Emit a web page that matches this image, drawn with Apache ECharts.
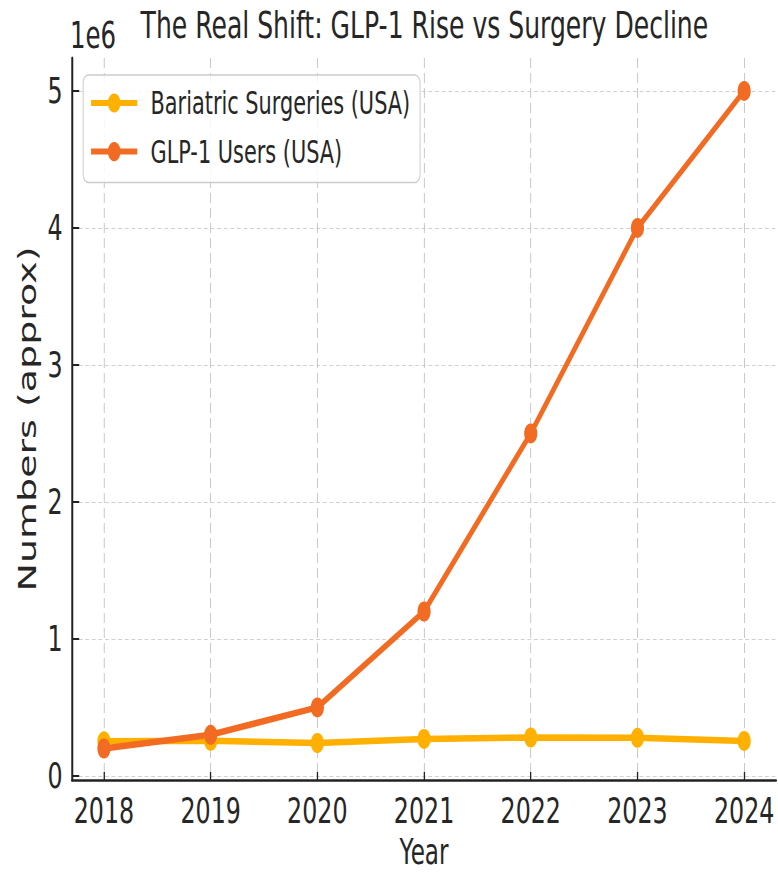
<!DOCTYPE html>
<html>
<head>
<meta charset="utf-8">
<script src="https://cdn.jsdelivr.net/npm/echarts@6/dist/echarts.min.js"></script>
<style>
html,body{margin:0;padding:0;overflow:hidden;background:#fff;}
#wrap{width:778px;height:876px;overflow:hidden;position:relative;}
#chart{width:1179px;height:876px;transform:scaleX(0.66);transform-origin:0 0;position:absolute;left:0;top:0;}
</style>
</head>
<body>
<div id="wrap"><div id="chart"></div></div>
<script>
const years = [2018, 2019, 2020, 2021, 2022, 2023, 2024];
const bariatric = [252000, 256000, 240000, 270000, 280000, 278000, 255000];
const glp1 = [200000, 300000, 500000, 1200000, 2500000, 4000000, 5000000];
const yTicks = [0, 1000000, 2000000, 3000000, 4000000, 5000000];
const seriesNames = ['Bariatric Surgeries (USA)', 'GLP-1 Users (USA)'];
const titleText = 'The Real Shift: GLP-1 Rise vs Surgery Decline';

const FONT = 'DejaVu Sans';
const TXT = '#262626';
const chart = echarts.init(document.getElementById('chart'), null, {renderer: 'svg'});

const pairs = arr => years.map((y, i) => [y, arr[i]]);

chart.setOption({
  animation: false,
  backgroundColor: '#fff',
  title: {
    text: titleText,
    left: 638, textAlign: 'center', top: 1,
    textStyle: {fontFamily: FONT, fontSize: 38, fontWeight: 'normal', color: TXT}
  },
  graphic: [{
    type: 'text', left: 106, top: 17,
    style: {text: '1e6', fontFamily: FONT, fontSize: 37, fill: TXT}
  }],
  legend: {
    orient: 'vertical',
    left: 126, top: 75,
    padding: [10, 15, 13, 9],
    itemWidth: 70, itemHeight: 24,
    itemGap: 12.6,
    backgroundColor: 'rgba(255,255,255,0.85)',
    borderColor: '#cccccc', borderWidth: 1.5, borderRadius: 8,
    lineStyle: {width: 6},
    textStyle: {fontFamily: FONT, fontSize: 31.6, color: TXT, lineHeight: 36, padding: [0, 0, 0, 15]},
    data: seriesNames
  },
  grid: {left: 109, right: 3, top: 58, bottom: 96, containLabel: false, outerBoundsMode: 'none'},
  xAxis: {
    type: 'value', min: 2017.7, max: 2024.3,
    name: 'Year', nameLocation: 'middle', nameGap: 55,
    nameTextStyle: {fontFamily: FONT, fontSize: 35, color: TXT, lineHeight: 34},
    axisLine: {show: true, onZero: false, lineStyle: {color: '#222', width: 2.5}},
    axisTick: {show: true, inside: true, length: 8, customValues: years, lineStyle: {color: '#222', width: 2}},
    axisLabel: {customValues: years, formatter: v => String(v), fontFamily: FONT, fontSize: 36, color: TXT, margin: 13},
    splitLine: {show: true, lineStyle: {color: '#c8c8c8', width: 1.5, type: [10, 5]}}
  },
  yAxis: {
    type: 'value', min: -30000, max: 5240000,
    name: 'Numbers (approx)', nameLocation: 'middle', nameGap: 49, nameRotate: 90,
    nameTextStyle: {fontFamily: FONT, fontSize: 38, color: TXT},
    axisLine: {show: true, onZero: false, lineStyle: {color: '#222', width: 3}},
    axisTick: {show: true, inside: true, length: 11, customValues: yTicks, lineStyle: {color: '#222', width: 2}},
    axisLabel: {customValues: yTicks, formatter: v => String(Math.round(v / 1e6)), fontFamily: FONT, fontSize: 36, color: TXT, margin: 14},
    splitLine: {show: true, lineStyle: {color: '#c8c8c8', width: 1, type: [6, 4]}}
  },
  series: [
    {
      name: seriesNames[0], type: 'line', data: pairs(bariatric),
      symbol: 'circle', symbolSize: 20, showSymbol: true,
      lineStyle: {width: 6.5, color: '#ffb000'}, itemStyle: {color: '#ffb000'}
    },
    {
      name: seriesNames[1], type: 'line', data: pairs(glp1),
      symbol: 'circle', symbolSize: 20, showSymbol: true,
      lineStyle: {width: 6.5, color: '#f26b22'}, itemStyle: {color: '#f26b22'}
    }
  ]
});
</script>
</body>
</html>
